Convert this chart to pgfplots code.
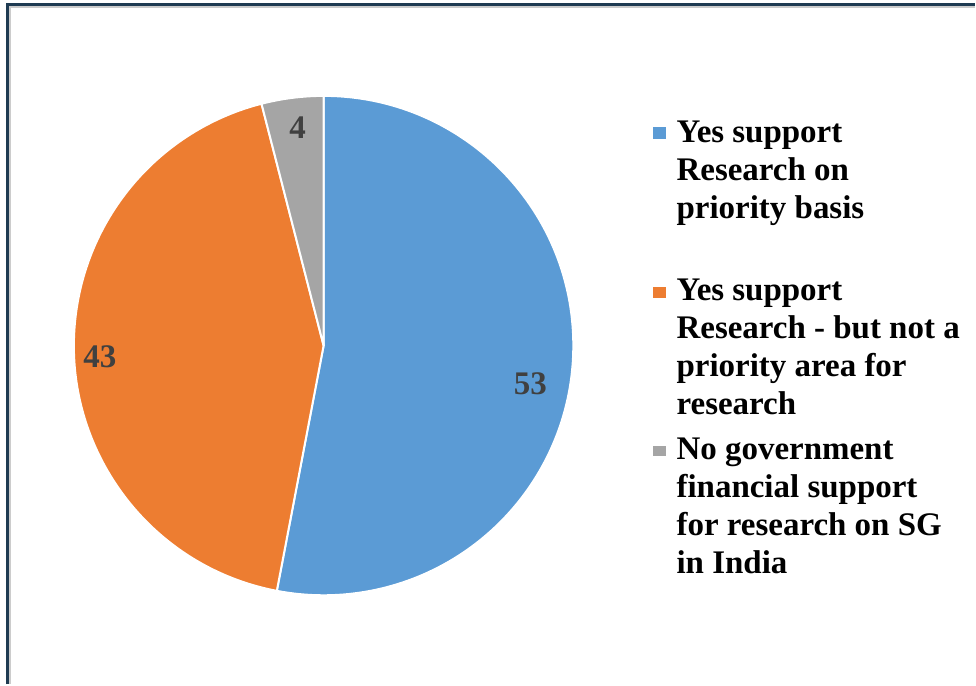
\documentclass[border=0pt]{standalone}
\usepackage{pgfplots}
\pgfplotsset{compat=1.18}
\usepackage{pgfplotstable}
\usepackage{fontspec}
\setmainfont{Liberation Serif}
\definecolor{cBlue}{HTML}{5B9BD5}
\definecolor{cOrange}{HTML}{ED7D31}
\definecolor{cGray}{HTML}{A5A5A5}
\definecolor{cLabel}{HTML}{404040}
\definecolor{cFrame}{HTML}{1F3B52}

\pgfplotstableread{
value lx ly
53 531 384
43 100 357
4 298 128
}\piedata

\begin{document}
\begin{tikzpicture}
\pgfplotstablegetelem{0}{value}\of\piedata \edef\va{\pgfplotsretval}
\pgfplotstablegetelem{1}{value}\of\piedata \edef\vb{\pgfplotsretval}
\pgfplotstablegetelem{2}{value}\of\piedata \edef\vc{\pgfplotsretval}
\pgfplotstablegetelem{0}{lx}\of\piedata \edef\xa{\pgfplotsretval}
\pgfplotstablegetelem{1}{lx}\of\piedata \edef\xb{\pgfplotsretval}
\pgfplotstablegetelem{2}{lx}\of\piedata \edef\xc{\pgfplotsretval}
\pgfplotstablegetelem{0}{ly}\of\piedata \edef\ya{\pgfplotsretval}
\pgfplotstablegetelem{1}{ly}\of\piedata \edef\yb{\pgfplotsretval}
\pgfplotstablegetelem{2}{ly}\of\piedata \edef\yc{\pgfplotsretval}
\pgfmathsetmacro{\tot}{\va+\vb+\vc}
\pgfmathsetmacro{\aA}{90}
\pgfmathsetmacro{\aB}{90-360*(\va/\tot)}
\pgfmathsetmacro{\aC}{\aB-360*(\vb/\tot)}
\pgfmathsetmacro{\aD}{\aC-360*(\vc/\tot)}
\begin{axis}[hide axis, x=0.5pt, y=0.5pt, y dir=reverse,
  xmin=0, xmax=976, ymin=0, ymax=685, clip=false, scale only axis]
\path (axis cs:0,0) rectangle (axis cs:976,685);
% frame
\draw[cFrame, line width=1.2pt] (axis cs:7.5,685) -- (axis cs:7.5,4.5) -- (axis cs:976,4.5);
\draw[black!20, line width=0.6pt] (axis cs:10,685) -- (axis cs:10,7) -- (axis cs:976,7);
% pie
\filldraw[fill=cBlue, draw=white, line width=1pt, line join=round]
  (axis cs:324,346) -- ++(\aA:125pt) arc[start angle=\aA, end angle=\aB, radius=125pt] -- cycle;
\filldraw[fill=cOrange, draw=white, line width=1pt, line join=round]
  (axis cs:324,346) -- ++(\aB:125pt) arc[start angle=\aB, end angle=\aC, radius=125pt] -- cycle;
\filldraw[fill=cGray, draw=white, line width=1pt, line join=round]
  (axis cs:324,346) -- ++(\aC:125pt) arc[start angle=\aC, end angle=\aD, radius=125pt] -- cycle;
% data labels
\node[text=cLabel, font=\bfseries\fontsize{16.5}{19}\selectfont] at (axis cs:\xa,\ya) {\va};
\node[text=cLabel, font=\bfseries\fontsize{16.5}{19}\selectfont] at (axis cs:\xb,\yb) {\vb};
\node[text=cLabel, font=\bfseries\fontsize{16.5}{19}\selectfont] at (axis cs:\xc,\yc) {\vc};
% legend
\fill[cBlue] (axis cs:654,127) rectangle (axis cs:667,139);
\fill[cOrange] (axis cs:654,287) rectangle (axis cs:667,298);
\fill[cGray] (axis cs:654,447) rectangle (axis cs:667,457);
\tikzset{lg/.style={anchor=base west, inner sep=0pt, font=\bfseries\fontsize{16.5}{19}\selectfont}}
\node[lg] at (axis cs:677,143) {Yes support};
\node[lg] at (axis cs:677,181) {Research on};
\node[lg] at (axis cs:677,219) {priority basis};
\node[lg] at (axis cs:677,301) {Yes support};
\node[lg] at (axis cs:677,339) {Research - but not a};
\node[lg] at (axis cs:677,377) {priority area for};
\node[lg] at (axis cs:677,415) {research};
\node[lg] at (axis cs:677,460) {No government};
\node[lg] at (axis cs:677,498) {financial support};
\node[lg] at (axis cs:677,536) {for research on SG};
\node[lg] at (axis cs:677,574) {in India};
\end{axis}
\end{tikzpicture}
\end{document}
